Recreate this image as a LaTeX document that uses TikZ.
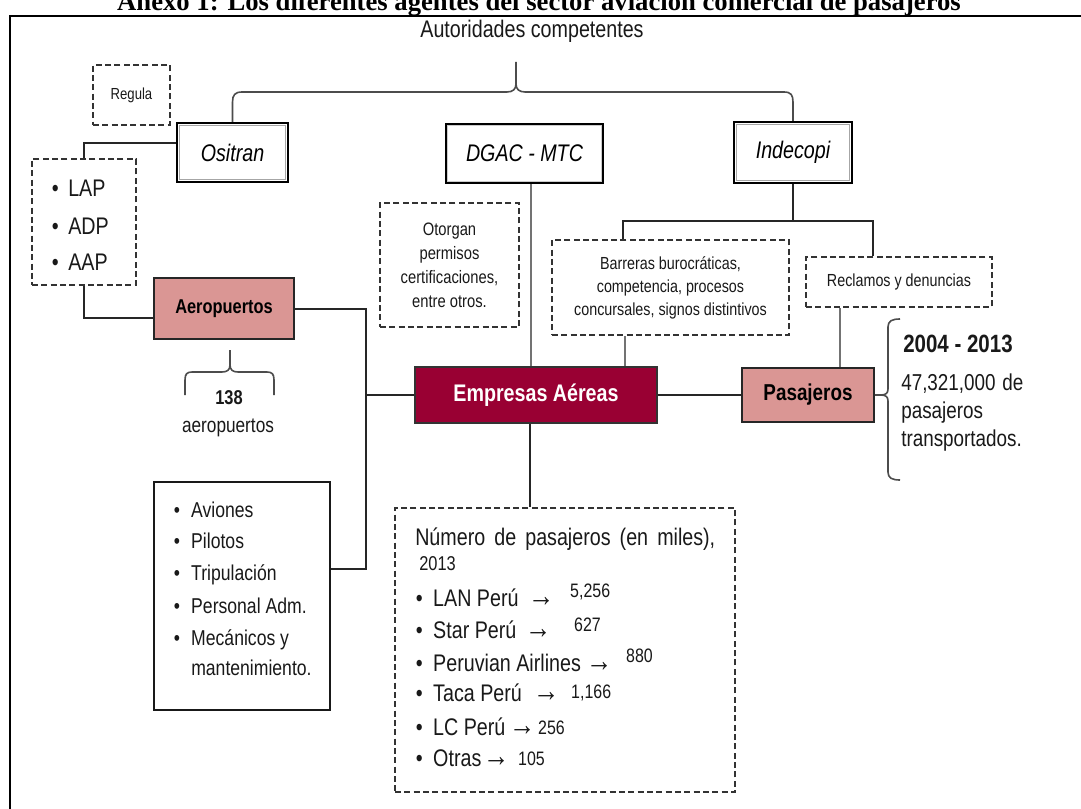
\documentclass[tikz,border=0pt]{standalone}
\usepackage{fontspec}
\setmainfont{Liberation Sans}
\newfontfamily\nar[FakeStretch=0.82]{Liberation Sans}
\newfontfamily\serifttl{Liberation Serif}
\usetikzlibrary{calc}
\definecolor{pinkc}{RGB}{218,150,148}
\definecolor{maroonc}{RGB}{153,0,51}
\newcommand\bulw[1]{\makebox[#1][l]{\textbullet}}
\newcommand\nline[5]{\bulw{13.1pt}\makebox[\dimexpr#2-3pt\relax][l]{#1}\makebox[\dimexpr#3+3pt\relax][l]{\raisebox{0.3pt}{\fontsize{24pt}{26pt}\selectfont →}}\raisebox{#5}{\fontsize{14.6pt}{16pt}\selectfont #4}}
\begin{document}
\begin{tikzpicture}[x=0.75pt,y=-0.75pt,
  conn/.style={draw=black!85,line width=1.5pt},
  gconn/.style={draw=black!55,line width=1.2pt},
  brc/.style={draw=black!70,line width=1.2pt},
  dbox/.style={draw=black!80,line width=1.5pt,dash pattern=on 4.5pt off 2.5pt,inner sep=0pt,align=center,text=black!90,fill=white},
  hbox/.style={draw=black,line width=1.8pt,fill=white,inner sep=0pt,font={\nar\itshape\fontsize{18pt}{20pt}\selectfont}},
  pbox/.style={draw=black!85,line width=1.6pt,fill=pinkc,inner sep=0pt},
  txt/.style={inner sep=0pt,text=black!90},
  item/.style={anchor=base west,inner sep=0pt,text=black!90}]
\useasboundingbox (0,0) rectangle (1081,809);
\clip (0,0) rectangle (1081,809);
\fill[white] (0,0) rectangle (1081,809);

% title (cut off at top) and frame
\node[anchor=base,inner sep=0pt,font={\serifttl\bfseries\fontsize{20pt}{24pt}\selectfont}] (title) at (539,11) {Anexo 1: Los diferentes agentes del sector aviación comercial de pasajeros};
\draw[line width=1.6pt] (10,815) -- (10,16) -- (1090,16);

\node[txt,font={\nar\fontsize{18pt}{20pt}\selectfont}] (aut) at (532,31) {Autoridades competentes};

% boxes
\node[dbox,minimum width=57.75pt,minimum height=45pt,font={\nar\fontsize{12pt}{14pt}\selectfont}] (reg) at (131.5,95) {Regula};
\node[hbox,minimum width=83.25pt,minimum height=44.25pt] (osi) at (232.5,152.5) {Ositran};
\node[hbox,minimum width=117.75pt,minimum height=44.25pt] (dgac) at (524.5,153.5) {DGAC - MTC};
\node[hbox,minimum width=88.5pt,minimum height=45.75pt] (ind) at (793,152.5) {Indecopi};
\draw[gray!70,line width=1pt] ([shift={(3.5,-3.5)}]osi.south west) rectangle ([shift={(-3.5,3.5)}]osi.north east);
\draw[gray!70,line width=1pt] ([shift={(3.5,-3.5)}]ind.south west) rectangle ([shift={(-3.5,3.5)}]ind.north east);
\draw[gray!40,line width=0.6pt] ([shift={(2.5,-2.5)}]dgac.south west) rectangle ([shift={(-2.5,2.5)}]dgac.north east);

\node[dbox,minimum width=78pt,minimum height=94.5pt] (lap) at (84,222) {};
\node[pbox,minimum width=105pt,minimum height=45.75pt,font={\nar\bfseries\fontsize{15pt}{17pt}\selectfont}] (aero) at (224,308.5) {Aeropuertos};
\node[dbox,minimum width=104.25pt,minimum height=93pt,font={\nar\fontsize{13.5pt}{18pt}\selectfont}] (oto) at (449.5,265) {Otorgan\\permisos\\certificaciones,\\entre otros.};
\node[dbox,minimum width=177.75pt,minimum height=71.25pt,font={\nar\fontsize{13.1pt}{17.25pt}\selectfont}] (barr) at (670.5,287.5) {Barreras burocráticas,\\competencia, procesos\\concursales, signos distintivos};
\node[dbox,minimum width=139.5pt,minimum height=37.5pt,font={\nar\fontsize{13.1pt}{15pt}\selectfont}] (rec) at (899,282) {Reclamos y denuncias};
\node[draw=black!80,line width=1.5pt,fill=maroonc,inner sep=0pt,minimum width=181.5pt,minimum height=42pt,text=white,font={\nar\bfseries\fontsize{18pt}{20pt}\selectfont}] (emp) at (536,395) {Empresas Aéreas};
\node[pbox,minimum width=99pt,minimum height=40.5pt,font={\nar\bfseries\fontsize{17.25pt}{19pt}\selectfont}] (pas) at (808,395) {Pasajeros};
\node[draw=black!90,line width=1.4pt,fill=white,minimum width=132pt,minimum height=171pt] (avi) at (242,596) {};
\node[dbox,minimum width=255pt,minimum height=213pt] (num) at (565,650) {};

% connectors
\draw[conn] ($(osi.west)+(0,-9.5)$) -| (lap.north);
\draw[conn] (lap.south) |- ($(aero.west)+(0,9.5)$);
\coordinate (busB) at (366,569);
\draw[conn] (aero.east) -| (busB) -- (busB -| avi.east);
\draw[conn] (emp.west) -- (emp.west -| busB);
\draw[conn] (emp.east) -- (pas.west);
\coordinate (e1) at ([xshift=-4.5pt]emp.south);
\draw[conn] (e1) -- (e1 |- num.north);
\coordinate (d1) at ([xshift=4.9pt]dgac.south);
\draw[gconn] (d1) -- (d1 |- emp.north);
\coordinate (b1) at ([xshift=-34.1pt]barr.south);
\draw[gconn] (b1) -- (b1 |- emp.north);
\coordinate (indB) at (793,221);
\draw[conn] (ind.south) -- (indB);
\draw[conn] ([xshift=-35.6pt]barr.north) |- (indB) -| ([xshift=-19.5pt]rec.north);
\coordinate (r1) at ([xshift=-44.25pt]rec.south);
\draw[gconn] (r1) -- (r1 |- pas.north);

% top brace
\coordinate (autTip) at (516,62);
\draw[brc] (osi.north) -- (232.5,102) .. controls (232.5,95) and (235,92) .. (242,92) -- (507,92) .. controls (513,92) and (516,89) .. (516,84) -- (autTip);
\draw[brc] (516,84) .. controls (516,89) and (519,92) .. (525,92) -- (784,92) .. controls (791,92) and (793,95) .. (793,102) -- (ind.north);

% brace under Aeropuertos
\coordinate (aerTip) at (230,350);
\draw[brc] (185,395) -- (185,380) .. controls (185,374) and (187,372) .. (192,372) -- (222,372) .. controls (227,372) and (230,370) .. (230,365) -- (aerTip);
\draw[brc] (230,365) .. controls (230,370) and (233,372) .. (238,372) -- (267,372) .. controls (272,372) and (274,374) .. (274,380) -- (274,395);
\node[txt,font={\nar\bfseries\fontsize{15pt}{17pt}\selectfont}] (n138) at (229,398) {138};
\node[txt,font={\nar\fontsize{15.75pt}{17pt}\selectfont}] (naer) at (228,428) {aeropuertos};

% brace right of Pasajeros
\coordinate (pasTip) at (881,395);
\draw[brc] (pas.east) -- (pasTip);
\draw[brc] (900,319) .. controls (892,319) and (888,321) .. (888,327) -- (888,389) .. controls (888,393) and (886,395) .. (pasTip) .. controls (886,395) and (888,397) .. (888,401) -- (888,472) .. controls (888,478) and (892,480) .. (900,480);
\node[item,font={\nar\bfseries\fontsize{18.75pt}{20pt}\selectfont}] (yrs) at (903,352) {2004 - 2013};
\node[item,font={\nar\fontsize{17.25pt}{21pt}\selectfont}] (p1) at (901,390) {\makebox[91.5pt][s]{47,321,000 de}};
\node[item,font={\nar\fontsize{17.25pt}{21pt}\selectfont}] (p2) at (901,418) {pasajeros};
\node[item,font={\nar\fontsize{17.25pt}{21pt}\selectfont}] (p3) at (901,446) {transportados.};

% LAP list
\foreach \t/\y in {LAP/196.6,ADP/234.6,AAP/270.6}
  \node[item,font={\nar\fontsize{18pt}{20pt}\selectfont}] (lap-\t) at (51.6,\y) {\bulw{12.3pt}\t};

% Aviones list
\foreach \t/\y [count=\i] in {Aviones/517.7,Pilotos/548.7,Tripulación/580.7,Personal Adm./613.7,Mecánicos y/645.7}
  \node[item,font={\nar\fontsize{16.1pt}{18pt}\selectfont}] (avi-\i) at (173.5,\y) {\bulw{13.1pt}\t};
\node[item,font={\nar\fontsize{16.1pt}{18pt}\selectfont}] (avi-6) at (191,675.7) {mantenimiento.};

% Numero list
\node[item,font={\nar\fontsize{18pt}{20pt}\selectfont}] (numt) at (415,545.6) {\makebox[225pt][s]{Número de pasajeros (en miles),}};
\node[item,font={\nar\fontsize{15pt}{17pt}\selectfont}] (numy) at (419,570) {2013};
\node[item,font={\nar\fontsize{18pt}{20pt}\selectfont}] (l1) at (415.5,606.6) {\nline{LAN Perú}{74.25pt}{28.5pt}{5,256}{6.5pt}};
\node[item,font={\nar\fontsize{18pt}{20pt}\selectfont}] (l2) at (415.5,638.6) {\nline{Star Perú}{72pt}{33.75pt}{627}{5pt}};
\node[item,font={\nar\fontsize{18pt}{20pt}\selectfont}] (l3) at (415.5,671.6) {\nline{Peruvian Airlines}{117.75pt}{27pt}{880}{7.2pt}};
\node[item,font={\nar\fontsize{18pt}{20pt}\selectfont}] (l4) at (415.5,701.6) {\nline{Taca Perú}{78pt}{25.5pt}{1,166}{2.7pt}};
\node[item,font={\nar\fontsize{18pt}{20pt}\selectfont}] (l5) at (415.5,735.6) {\nline{LC Perú}{60pt}{18.75pt}{256}{1.2pt}};
\node[item,font={\nar\fontsize{18pt}{20pt}\selectfont}] (l6) at (415.5,766.6) {\nline{Otras}{40.5pt}{23.25pt}{105}{0.5pt}};
\end{tikzpicture}
\end{document}
